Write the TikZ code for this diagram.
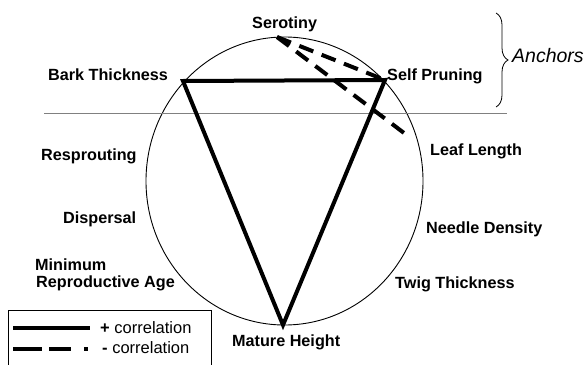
\documentclass[tikz,border=0pt]{standalone}
\usepackage{fontspec}
\setmainfont{Liberation Sans}
\usetikzlibrary{positioning, calc, decorations.pathreplacing}

\begin{document}
\begin{tikzpicture}[
    x=1pt, y=-1pt,
    every node/.style={font=\fontsize{16.2}{19}\selectfont\bfseries, inner sep=0pt},
    trait/.style={anchor=base west},
    poscor/.style={
        line width=4pt,
        line join=miter
    },
    negcor/.style={
        line width=4pt,
        dash pattern=on 15pt off 9pt
    },
    legend/.style={
        font=\fontsize{16.5}{19}\selectfont,
        anchor=base west
    }
]
\useasboundingbox (0,0) rectangle (585,364);

% Cercle et ligne de coupe
\draw[line width=0.9pt] (284.5,181) ellipse [x radius=138.5, y radius=144];
\draw[gray, line width=0.9pt] (44,113) -- (507,113);

% Points sur le cercle
\coordinate (serot) at (277,37);
\coordinate (bark) at (183,81);
\coordinate (prune) at (385,80);
\coordinate (height) at (283,325);
\coordinate (leaf) at (408,136);

% Traits
\node[trait] (serotiny) at (252,28) {Serotiny};
\node[trait] (barkth) at (48,80) {Bark Thickness};
\node[trait] (selfpr) at (387,80) {Self Pruning};
\node[trait] (resprout) at (41,160) {Resprouting};
\node[trait] (dispersal) at (63,223) {Dispersal};
\node[trait] (minimum) at (35,270) {Minimum};
\node[trait] (reprage) at (36,287) {Reproductive Age};
\node[trait] (leaflen) at (430,155) {Leaf Length};
\node[trait] (needle) at (426,233) {Needle Density};
\node[trait] (twig) at (395,288) {Twig Thickness};
\node[trait] (mature) at (232,346) {Mature Height};

% Correlations
\draw[poscor] (bark) -- (prune) -- (height) -- cycle;
\draw[negcor] (serot) -- (prune);
\draw[negcor] (serot) -- (leaf);

% Accolade
\coordinate (brtop) at (496,13);
\coordinate (brbot) at (496,107);
\draw[line width=0.8pt, decorate, decoration={brace, amplitude=12pt}] (brtop) -- (brbot);
\node[anchor=base west, font=\fontsize{19.5}{22}\selectfont\itshape] (anchors) at (512,62) {Anchors};

% Legende
\draw[line width=0.9pt] (8,366) -- (8,310) -- (211,310) -- (211,366);
\draw[line width=4pt] (13,328) -- (90,328);
\draw[line width=4pt, dash pattern=on 29pt off 7pt on 22pt off 13pt on 4pt off 7pt] (13,349) -- (88,349);
\node[legend] (plus) at (100,333) {\textbf{+} correlation};
\node[legend] (minus) at (102,353) {\textbf{-} correlation};

\end{tikzpicture}
\end{document}
